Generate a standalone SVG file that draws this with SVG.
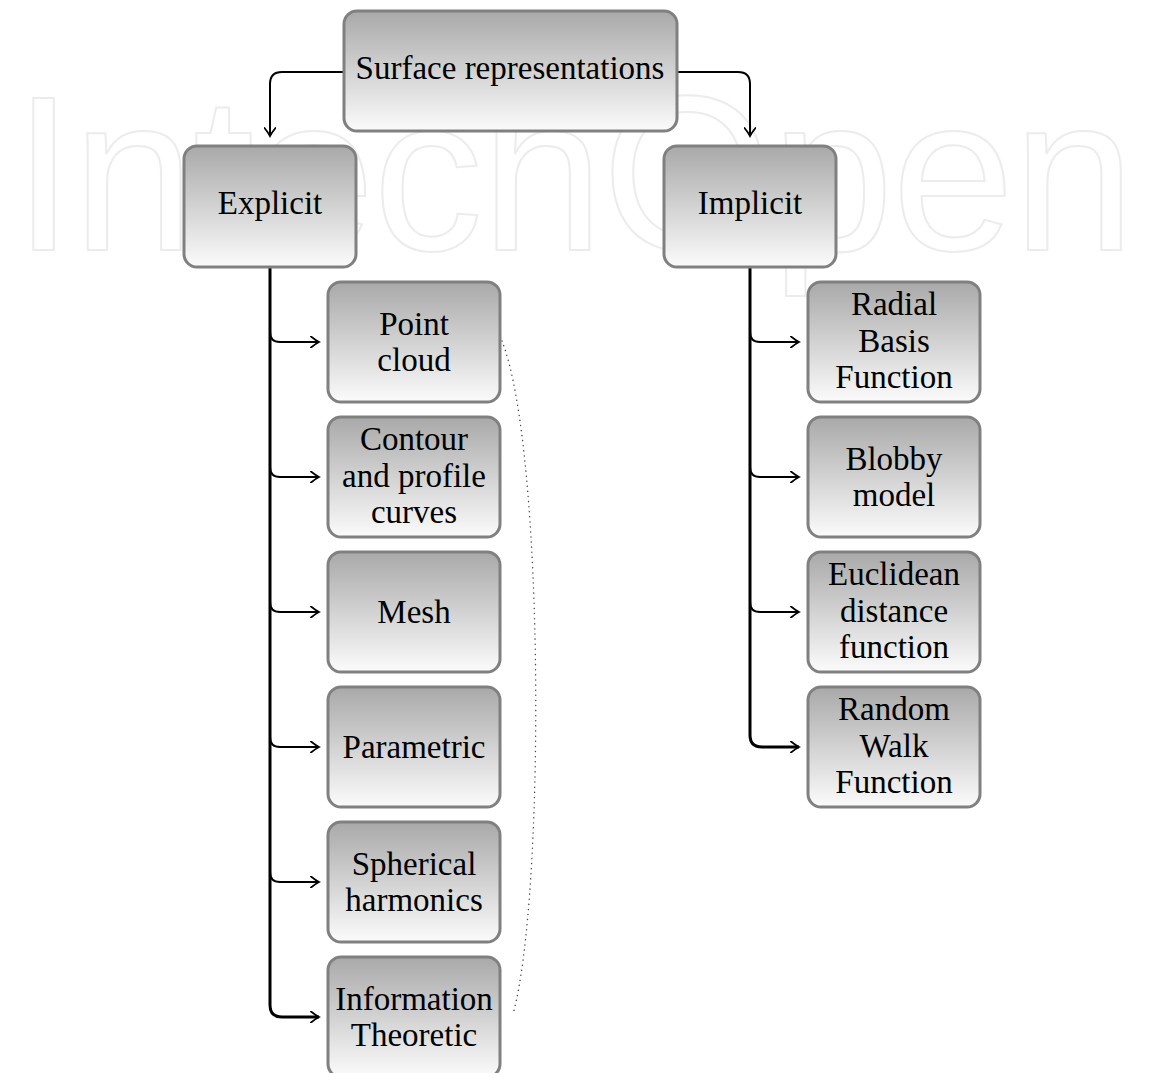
<svg xmlns="http://www.w3.org/2000/svg" width="1150" height="1073" viewBox="0 0 1150 1073">
  <defs>
    <linearGradient id="boxGrad" x1="0" y1="0" x2="0" y2="1">
      <stop offset="0" stop-color="#a9a9a9"/>
      <stop offset="1" stop-color="#fbfbfb"/>
    </linearGradient>
    <marker id="arr" viewBox="-10 -6 12 12" markerWidth="12" markerHeight="12" refX="0" refY="0" orient="auto" markerUnits="userSpaceOnUse">
      <path d="M -8 -5.5 Q -3 -1.5 0 0 Q -3 1.5 -8 5.5" fill="none" stroke="#000" stroke-width="1.8" stroke-linecap="round"/>
    </marker>
  </defs>
  <style>
    .box { fill: url(#boxGrad); stroke: #808080; stroke-width: 3; }
    .lbl { font-family: "Liberation Serif", "Times New Roman", serif; font-size: 33px; fill: #000; text-anchor: middle; }
    .con { fill: none; stroke: #000; stroke-width: 2; }
    .trunk { fill: none; stroke: #000; stroke-width: 3; }
    .wm { font-family: "Liberation Sans", Arial, sans-serif; font-size: 220px; fill: none; stroke: #ececec; stroke-width: 2; }
  </style>
  <rect width="1150" height="1073" fill="#ffffff"/>
  <text class="wm" x="13" y="250" textLength="1122" lengthAdjust="spacing">IntechOpen</text>

  <g id="connectors">
    <path class="con" d="M 343 72 L 282 72 Q 270 72 270 84 L 270 136" marker-end="url(#arr)"/>
    <path class="con" d="M 677 72 L 738 72 Q 750 72 750 84 L 750 136" marker-end="url(#arr)"/>
    <path class="trunk" d="M 270 268 L 270 1005 Q 270 1017 282 1017 L 319 1017" marker-end="url(#arr)"/>
    <path class="con" d="M 270 332 Q 270 342 280 342 L 319 342" marker-end="url(#arr)"/>
    <path class="con" d="M 270 467 Q 270 477 280 477 L 319 477" marker-end="url(#arr)"/>
    <path class="con" d="M 270 602 Q 270 612 280 612 L 319 612" marker-end="url(#arr)"/>
    <path class="con" d="M 270 737 Q 270 747 280 747 L 319 747" marker-end="url(#arr)"/>
    <path class="con" d="M 270 872 Q 270 882 280 882 L 319 882" marker-end="url(#arr)"/>
    <path class="trunk" d="M 750 268 L 750 735 Q 750 747 762 747 L 799 747" marker-end="url(#arr)"/>
    <path class="con" d="M 750 332 Q 750 342 760 342 L 799 342" marker-end="url(#arr)"/>
    <path class="con" d="M 750 467 Q 750 477 760 477 L 799 477" marker-end="url(#arr)"/>
    <path class="con" d="M 750 602 Q 750 612 760 612 L 799 612" marker-end="url(#arr)"/>
    <path d="M 502 341 C 545 450 545 900 513 1014" fill="none" stroke="#444" stroke-width="1.4" stroke-dasharray="0.1 5" stroke-linecap="round"/>
  </g>

  <g id="node-surface">
    <rect class="box" x="344" y="11" width="333" height="120" rx="13"/>
    <text class="lbl" x="510" y="79">Surface representations</text>
  </g>
  <g id="node-explicit">
    <rect class="box" x="184" y="146" width="172" height="121" rx="13"/>
    <text class="lbl" x="270" y="214">Explicit</text>
  </g>
  <g id="node-implicit">
    <rect class="box" x="664" y="146" width="172" height="121" rx="13"/>
    <text class="lbl" x="750" y="214">Implicit</text>
  </g>

  <g id="node-pointcloud">
    <rect class="box" x="328" y="282" width="172" height="120" rx="13"/>
    <text class="lbl" x="414" y="335">Point</text>
    <text class="lbl" x="414" y="371">cloud</text>
  </g>
  <g id="node-contour">
    <rect class="box" x="328" y="417" width="172" height="120" rx="13"/>
    <text class="lbl" x="414" y="450">Contour</text>
    <text class="lbl" x="414" y="487">and profile</text>
    <text class="lbl" x="414" y="523">curves</text>
  </g>
  <g id="node-mesh">
    <rect class="box" x="328" y="552" width="172" height="120" rx="13"/>
    <text class="lbl" x="414" y="623">Mesh</text>
  </g>
  <g id="node-parametric">
    <rect class="box" x="328" y="687" width="172" height="120" rx="13"/>
    <text class="lbl" x="414" y="758">Parametric</text>
  </g>
  <g id="node-spherical">
    <rect class="box" x="328" y="822" width="172" height="120" rx="13"/>
    <text class="lbl" x="414" y="875">Spherical</text>
    <text class="lbl" x="414" y="911">harmonics</text>
  </g>
  <g id="node-information">
    <rect class="box" x="328" y="957" width="172" height="120" rx="13"/>
    <text class="lbl" x="414" y="1010">Information</text>
    <text class="lbl" x="414" y="1046">Theoretic</text>
  </g>

  <g id="node-rbf">
    <rect class="box" x="808" y="282" width="172" height="120" rx="13"/>
    <text class="lbl" x="894" y="315">Radial</text>
    <text class="lbl" x="894" y="352">Basis</text>
    <text class="lbl" x="894" y="388">Function</text>
  </g>
  <g id="node-blobby">
    <rect class="box" x="808" y="417" width="172" height="120" rx="13"/>
    <text class="lbl" x="894" y="470">Blobby</text>
    <text class="lbl" x="894" y="506">model</text>
  </g>
  <g id="node-euclidean">
    <rect class="box" x="808" y="552" width="172" height="120" rx="13"/>
    <text class="lbl" x="894" y="585">Euclidean</text>
    <text class="lbl" x="894" y="622">distance</text>
    <text class="lbl" x="894" y="658">function</text>
  </g>
  <g id="node-randomwalk">
    <rect class="box" x="808" y="687" width="172" height="120" rx="13"/>
    <text class="lbl" x="894" y="720">Random</text>
    <text class="lbl" x="894" y="757">Walk</text>
    <text class="lbl" x="894" y="793">Function</text>
  </g>
</svg>
